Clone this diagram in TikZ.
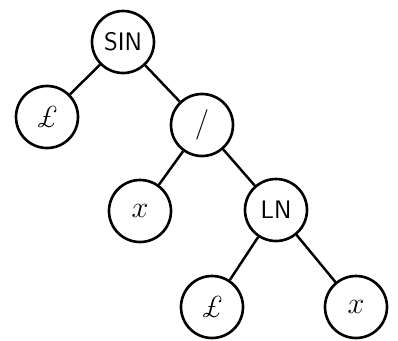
\documentclass[tikz,border=0pt]{standalone}
\usepackage{fontspec}

\begin{document}
\begin{tikzpicture}[
    nodo/.style={draw, circle, line width=1.5pt, minimum size=1.24cm, inner sep=0pt, font=\LARGE\sffamily},
    arista/.style={line width=1.4pt}
]
    \useasboundingbox (0,0) rectangle (7.96,-6.8);

    % NODOS DEL ARBOL
    \node[nodo, font=\Large\sffamily] (SIN) at (2.46,-0.84) {SIN};
    \node[nodo] (L1) at (0.94,-2.34) {\rmfamily\itshape £};
    \node[nodo] (DIV) at (4.04,-2.50) {/};
    \node[nodo] (X1) at (2.80,-4.22) {$x$};
    \node[nodo, font=\Large\sffamily] (LN) at (5.52,-4.20) {LN};
    \node[nodo] (L2) at (4.24,-6.14) {\rmfamily\itshape £};
    \node[nodo] (X2) at (7.12,-6.14) {$x$};

    % ARISTAS
    \draw[arista] (SIN) -- (L1);
    \draw[arista] (SIN) -- (DIV);
    \draw[arista] (DIV) -- (X1);
    \draw[arista] (DIV) -- (LN);
    \draw[arista] (LN) -- (L2);
    \draw[arista] (LN) -- (X2);

\end{tikzpicture}
\end{document}
